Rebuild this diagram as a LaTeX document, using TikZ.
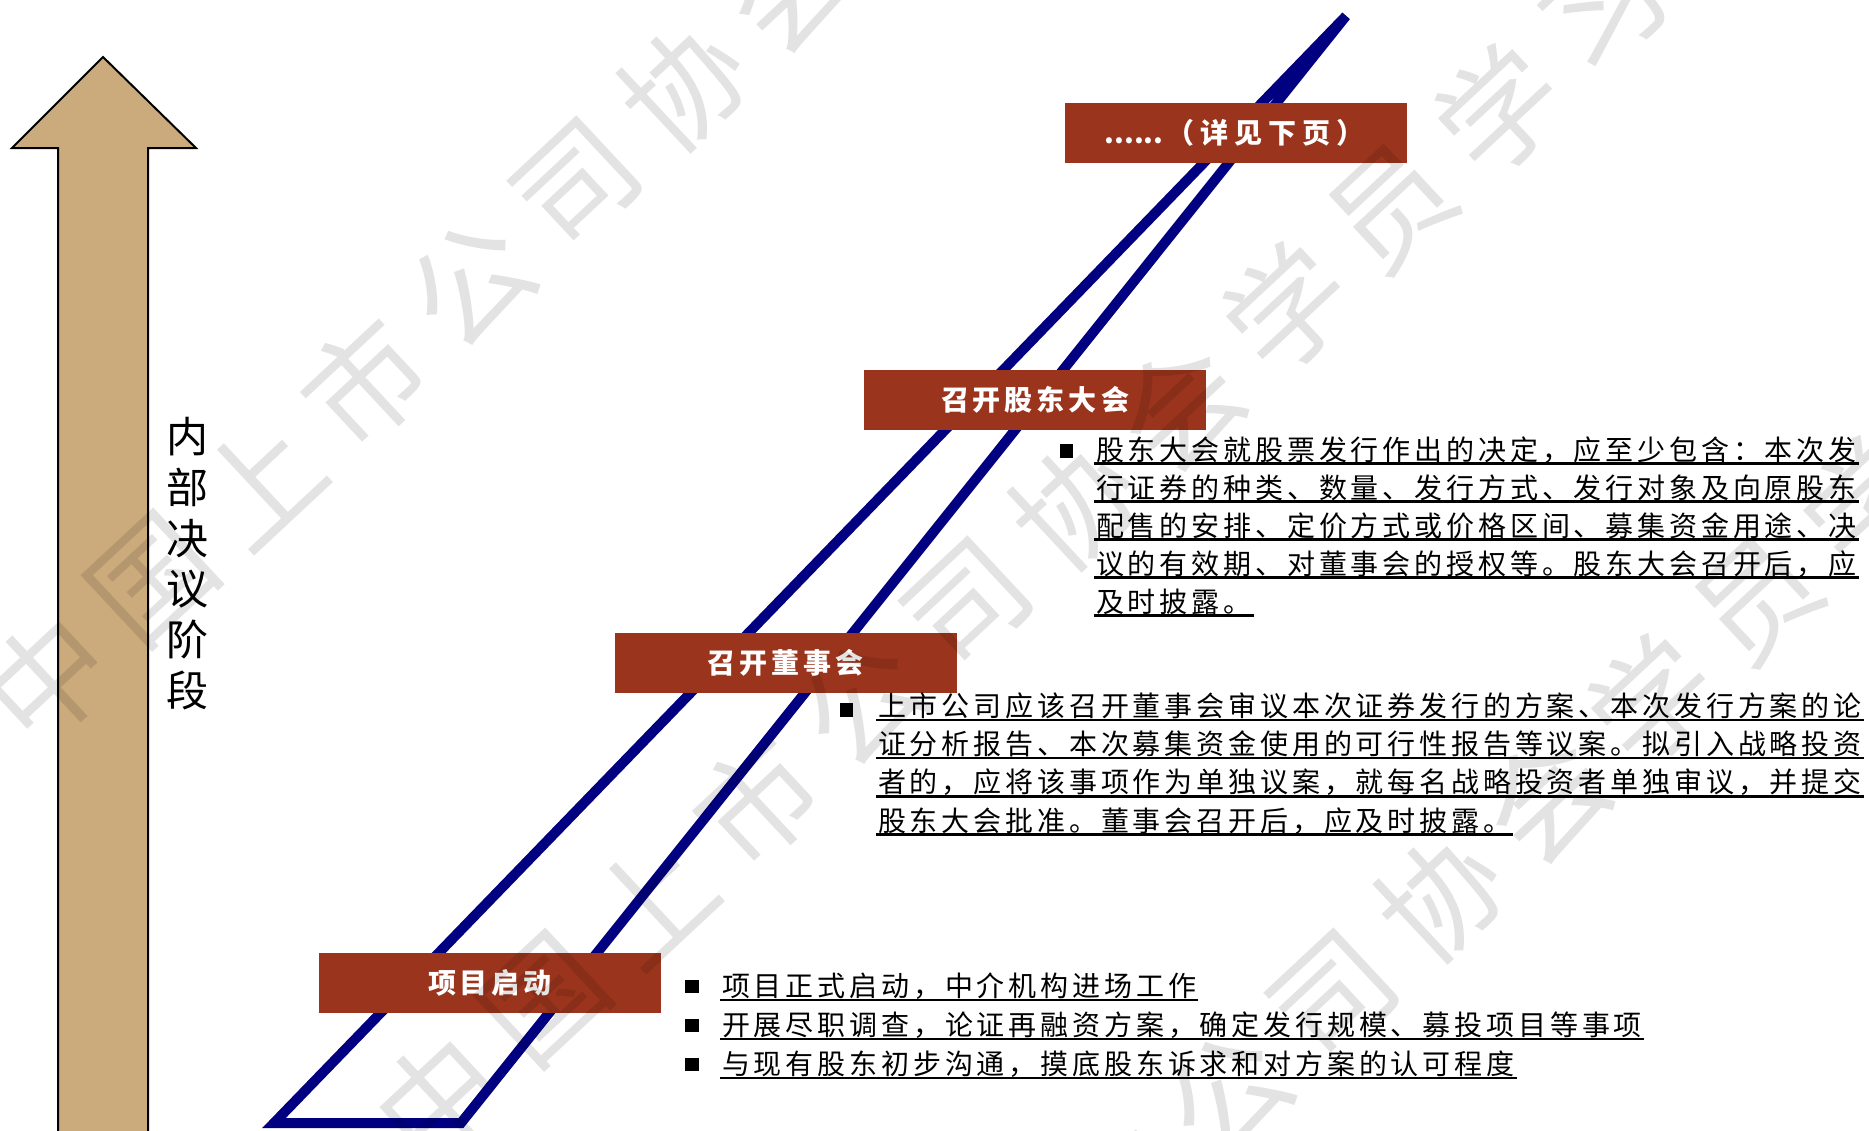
\documentclass[tikz,border=0pt]{standalone}
\usepackage{fontspec}
\setmainfont{Noto Sans CJK SC}
\definecolor{boxred}{RGB}{154,52,28}
\definecolor{navyb}{RGB}{0,0,128}
\definecolor{tanc}{RGB}{203,170,124}
\newlength\cw
\def\spr#1#2{\setlength\cw{#1}\sprx#2\relax}
\def\sprx#1{\ifx\relax#1\else\makebox[\cw][c]{#1}\expandafter\sprx\fi}
\tikzset{
  stagebox/.style={fill=boxred, minimum width=342pt, minimum height=60pt, inner sep=0pt, text=white, font=\fontsize{28}{30}\selectfont\bfseries},
  bodyline/.style={anchor=base west, inner sep=0pt, font=\fontsize{28}{30}\selectfont},
  ul/.style={line width=2.5pt, black},
  sq/.style={fill=black, minimum size=13.5pt, inner sep=0pt},
  wm/.style={text=black, text opacity=0.11, font=\fontsize{120}{120}\selectfont, rotate=43, inner sep=0pt},
  lab/.style={font=\fontsize{42}{42}\selectfont, inner sep=0pt},
  trackline/.style={line width=10pt, draw=navyb},
  bigarrow/.style={fill=tanc, draw=black, line width=2pt},
}
\newcommand\bline[4]{%
  \node[bodyline] (#1) at (#2,#3) {\spr{31.85pt}{#4}};
  \draw[ul] ([yshift=-3.5pt]#1.base west) -- ([yshift=-3.5pt]#1.base east);}
\begin{document}
\begin{tikzpicture}[x=1pt,y=-1pt]
\useasboundingbox (0,0) rectangle (1869,1130);
\clip (0,0) rectangle (1869,1130);
\fill[white] (0,0) rectangle (1869,1130);

% big tan arrow
\draw[bigarrow] (58,1140) -- (58,148) -- (12,148) -- (103,57) -- (196,148) -- (148,148) -- (148,1140) -- cycle;
\foreach \c [count=\i from 0] in {内,部,决,议,阶,段}
  \node[lab] (lab\i) at (187,{437+50.6*\i}) {\c};

% blue track
\coordinate (bl) at (274,1123);
\coordinate (br) at (461,1123);
\coordinate (tp) at (1346,16);
\draw[trackline] (bl) -- (tp) -- (br) -- cycle;

% stage boxes
\node[stagebox] (s4) at (1236,132.5) {......\spr{34pt}{（详见下页）}};
\node[stagebox] (s3) at (1035,399.5) {\spr{32pt}{召开股东大会}};
\node[stagebox] (s2) at (785.5,662.5) {\spr{32pt}{召开董事会}};
\node[stagebox] (s1) at (490,983) {\spr{32pt}{项目启动}};

% paragraph A
\node[sq] (qa) at (1066.5,451) {};
\bline{a1}{1094}{460}{股东大会就股票发行作出的决定，应至少包含：本次发}
\bline{a2}{1094}{498}{行证券的种类、数量、发行方式、发行对象及向原股东}
\bline{a3}{1094}{536}{配售的安排、定价方式或价格区间、募集资金用途、决}
\bline{a4}{1094}{574}{议的有效期、对董事会的授权等。股东大会召开后，应}
\bline{a5}{1094}{612}{及时披露。}

% paragraph B
\node[sq] (qb) at (846.5,710) {};
\bline{b1}{876}{716.5}{上市公司应该召开董事会审议本次证券发行的方案、本次发行方案的论}
\bline{b2}{876}{754.7}{证分析报告、本次募集资金使用的可行性报告等议案。拟引入战略投资}
\bline{b3}{876}{792.9}{者的，应将该事项作为单独议案，就每名战略投资者单独审议，并提交}
\bline{b4}{876}{831.1}{股东大会批准。董事会召开后，应及时披露。}

% paragraph C
\node[sq] (qc1) at (692,986.5) {};
\node[sq] (qc2) at (692,1025.5) {};
\node[sq] (qc3) at (692,1064.5) {};
\bline{c1}{720}{996.5}{项目正式启动，中介机构进场工作}
\bline{c2}{720}{1035.5}{开展尽职调查，论证再融资方案，确定发行规模、募投项目等事项}
\bline{c3}{720}{1074.5}{与现有股东初步沟通，摸底股东诉求和对方案的认可程度}

% watermark
\foreach \o in {529,1103,1639}
  \foreach \c [count=\k from 0] in {中,国,上,市,公,司,协,会,学,员,学,习}
    \node[wm] (w\o-\k) at ({(-429+145*\k)*0.731+\o*0.682},{-(-429+145*\k)*0.682+\o*0.731}) {\c};
\end{tikzpicture}
\end{document}
